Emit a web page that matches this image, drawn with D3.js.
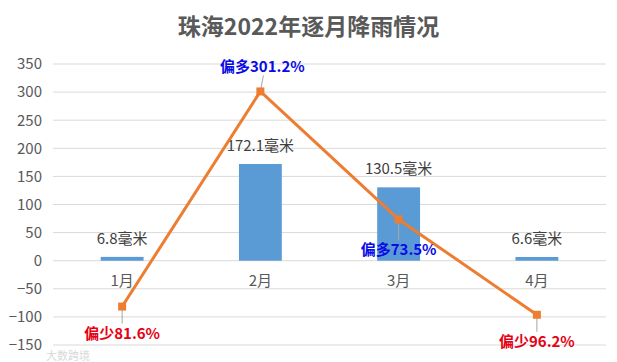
<!DOCTYPE html>
<html>
<head>
<meta charset="utf-8">
<script src="https://cdn.jsdelivr.net/npm/d3@7"></script>
<style>
  body { margin: 0; background: #fff; }
  svg { display: block; font-family: "Microsoft YaHei", "Noto Sans CJK SC", sans-serif; }
</style>
</head>
<body>
<div id="chart"></div>
<script>
// données
const months = ['1月', '2月', '3月', '4月'];
const rainfall = [6.8, 172.1, 130.5, 6.6];          // 毫米
const anomaly = [-81.6, 301.2, 73.5, -96.2];         // % par rapport à la normale
const yTicks = [-150, -100, -50, 0, 50, 100, 150, 200, 250, 300, 350];

const width = 617, height = 362;
const margin = { top: 64, right: 11, bottom: 17, left: 53 };

const svg = d3.select('#chart')
  .append('svg')
  .attr('width', width)
  .attr('height', height);

svg.append('text')
  .attr('x', width / 2)
  .attr('y', 35)
  .attr('text-anchor', 'middle')
  .attr('font-size', 23)
  .attr('font-weight', 'bold')
  .attr('fill', '#595959')
  .text('珠海2022年逐月降雨情况');

const x = d3.scaleBand()
  .domain(months)
  .range([margin.left, width - margin.right])
  .paddingInner(0.69)
  .paddingOuter(0.345);

const xc = d => x(d) + x.bandwidth() / 2;

const y = d3.scaleLinear()
  .domain([-150, 350])
  .range([height - margin.bottom, margin.top]);

// grille
svg.append('g')
  .selectAll('line')
  .data(yTicks)
  .enter()
  .append('line')
  .attr('x1', margin.left)
  .attr('x2', width - margin.right)
  .attr('y1', d => y(d))
  .attr('y2', d => y(d))
  .attr('stroke', '#d9d9d9')
  .attr('stroke-width', 1);

// axe gauche
const yAxis = svg.append('g')
  .attr('transform', `translate(${margin.left - 11},0)`)
  .call(d3.axisLeft(y).tickValues(yTicks).tickSize(0).tickPadding(0));
yAxis.select('.domain').remove();
yAxis.selectAll('text')
  .attr('font-size', 15)
  .attr('fill', '#595959')
  .attr('font-family', '"Microsoft YaHei", "Noto Sans CJK SC", sans-serif');

// barres
svg.selectAll('rect.bar')
  .data(rainfall)
  .enter()
  .append('rect')
  .attr('class', 'bar')
  .attr('x', (d, i) => x(months[i]))
  .attr('width', x.bandwidth())
  .attr('y', d => y(d))
  .attr('height', d => y(0) - y(d))
  .attr('fill', '#5b9bd5');

svg.selectAll('text.barlabel')
  .data(rainfall)
  .enter()
  .append('text')
  .attr('class', 'barlabel')
  .attr('x', (d, i) => xc(months[i]))
  .attr('y', d => y(d) - 13)
  .attr('text-anchor', 'middle')
  .attr('font-size', 15)
  .attr('fill', '#404040')
  .text(d => d + '毫米');

// libellés des mois (au niveau de zéro)
svg.selectAll('text.month')
  .data(months)
  .enter()
  .append('text')
  .attr('class', 'month')
  .attr('x', d => xc(d))
  .attr('y', y(0) + 25)
  .attr('text-anchor', 'middle')
  .attr('font-size', 15)
  .attr('fill', '#595959')
  .text(d => d);

// ligne des écarts
const pts = anomaly.map((v, i) => ({ m: months[i], v }));
const line = d3.line()
  .x(d => xc(d.m))
  .y(d => y(d.v));

svg.append('path')
  .datum(pts)
  .attr('fill', 'none')
  .attr('stroke', '#ed7d31')
  .attr('stroke-width', 3)
  .attr('stroke-linejoin', 'round')
  .attr('d', line);

// étiquettes : au-dessus pour le pic, en dessous sinon
const labelDy = d => d.v > 200 ? -24 : (d.v > 0 ? 31 : 27);

svg.selectAll('line.leader')
  .data(pts)
  .enter()
  .append('line')
  .attr('class', 'leader')
  .attr('x1', d => xc(d.m))
  .attr('y1', d => y(d.v))
  .attr('x2', d => xc(d.m) + (d.v > 200 ? 3 : 0))
  .attr('y2', d => y(d.v) + (labelDy(d) < 0 ? labelDy(d) + 8 : labelDy(d) - 10))
  .attr('stroke', '#a6a6a6')
  .attr('stroke-width', 1);

svg.selectAll('rect.marker')
  .data(pts)
  .enter()
  .append('rect')
  .attr('class', 'marker')
  .attr('x', d => xc(d.m) - 4)
  .attr('y', d => y(d.v) - 4)
  .attr('width', 8)
  .attr('height', 8)
  .attr('fill', '#ed7d31');

svg.selectAll('text.anom')
  .data(pts)
  .enter()
  .append('text')
  .attr('class', 'anom')
  .attr('x', d => xc(d.m) + (d.v > 200 ? 2 : 0))
  .attr('y', d => y(d.v) + labelDy(d) + 5)
  .attr('text-anchor', 'middle')
  .attr('font-size', 15)
  .attr('font-weight', 'bold')
  .attr('fill', d => d.v >= 0 ? '#0a0ae6' : '#e60012')
  .text(d => (d.v >= 0 ? '偏多' : '偏少') + Math.abs(d.v) + '%');

// filigrane
svg.append('text')
  .attr('x', 46)
  .attr('y', 360)
  .attr('font-size', 11)
  .attr('fill', '#d0d0d0')
  .attr('opacity', 0.8)
  .text('大数跨境');
</script>
</body>
</html>
